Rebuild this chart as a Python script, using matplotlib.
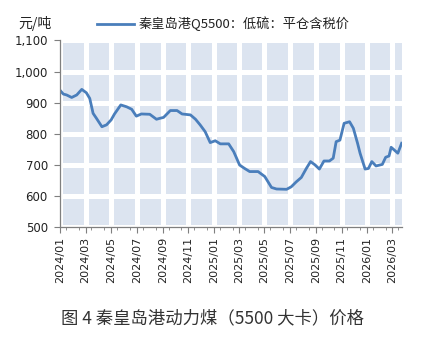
import numpy as np
import pandas as pd
import matplotlib
matplotlib.use('Agg')
import matplotlib.pyplot as plt
import matplotlib.dates as mdates

plt.rcParams['font.family'] = ['Noto Sans CJK SC', 'DejaVu Sans']

# weekly-ish readings of the price line
dates = ['2024-01-01', '2024-01-08', '2024-01-16', '2024-01-28', '2024-02-09', '2024-02-21',
         '2024-03-03', '2024-03-11', '2024-03-19', '2024-03-27', '2024-04-09', '2024-04-20',
         '2024-05-01', '2024-05-09', '2024-05-24', '2024-06-07', '2024-06-19', '2024-06-30',
         '2024-07-12', '2024-08-01', '2024-08-17', '2024-08-25', '2024-09-03', '2024-09-19',
         '2024-10-05', '2024-10-17', '2024-11-06', '2024-11-18', '2024-11-29', '2024-12-11',
         '2024-12-23', '2025-01-04', '2025-01-16', '2025-02-05', '2025-02-17', '2025-03-03',
         '2025-03-15', '2025-03-27', '2025-04-16', '2025-05-02', '2025-05-18', '2025-05-30',
         '2025-06-23', '2025-07-04', '2025-07-16', '2025-07-28', '2025-08-09', '2025-08-19',
         '2025-08-30', '2025-09-09', '2025-09-20', '2025-10-03', '2025-10-12', '2025-10-19',
         '2025-10-28', '2025-11-07', '2025-11-20', '2025-11-29', '2025-12-09', '2025-12-15',
         '2025-12-27', '2026-01-04', '2026-01-12', '2026-01-22', '2026-02-06', '2026-02-14',
         '2026-02-22', '2026-02-27', '2026-03-05', '2026-03-15', '2026-03-24']
prices = [939, 928, 925, 917, 925, 943, 932, 914, 866, 850, 823, 829,
          845, 864, 893, 887, 879, 857, 864, 863, 847, 850, 853, 875,
          875, 864, 861, 847, 829, 807, 772, 778, 768, 768, 743, 700,
          689, 679, 679, 663, 628, 623, 622, 630, 646, 660, 689, 711,
          700, 687, 713, 713, 722, 775, 780, 834, 839, 818, 770, 738,
          687, 689, 711, 697, 702, 725, 729, 757, 750, 738, 770]

legend_label = '秦皇岛港Q5500：低硫：平仓含税价'
caption = '图 4 秦皇岛港动力煤（5500 大卡）价格'

x = pd.to_datetime(dates)

fig = plt.figure(figsize=(4.25, 3.42), dpi=100)
ax = fig.add_axes([0.142, 0.3354, 0.803, 0.5462])
ax.set_facecolor('#dce4f0')

line, = ax.plot(x, prices, color='#4a7ebb', lw=2.0, solid_joinstyle='round')

ax.set_ylim(500, 1100)
ax.set_yticks(range(500, 1101, 100))
ax.yaxis.set_major_formatter(matplotlib.ticker.FuncFormatter(lambda v, p: f'{int(v):,}'))
ax.set_xlim(pd.Timestamp('2024-01-01'), x[-1])
ax.xaxis.set_major_locator(mdates.MonthLocator(bymonth=[1, 3, 5, 7, 9, 11]))
ax.xaxis.set_minor_locator(mdates.MonthLocator(bymonthday=15))
ax.xaxis.set_major_formatter(mdates.DateFormatter('%Y/%m'))
for lab in ax.get_xticklabels():
    lab.set_rotation(90)

ax.grid(True, which='major', color='white', lw=3.6)
ax.set_axisbelow(True)
for s in ['top', 'right']:
    ax.spines[s].set_visible(False)
for s in ['left', 'bottom']:
    ax.spines[s].set_color('#7f7f7f')
    ax.spines[s].set_linewidth(0.9)
ax.tick_params(axis='both', which='major', direction='out', length=4, color='#7f7f7f',
               labelcolor='#222222')
ax.tick_params(axis='y', labelsize=8.5, pad=5)
ax.tick_params(axis='x', labelsize=8, pad=3)
ax.tick_params(axis='x', which='minor', direction='out', length=2.5, color='#7f7f7f')
for lab in ax.get_xticklabels() + ax.get_yticklabels():
    lab.set_family('DejaVu Sans')

fig.text(0.042, 0.93, '元/吨', fontsize=10, color='#222222', va='center')
fig.legend([line], [legend_label], loc='center left', bbox_to_anchor=(0.215, 0.93),
           frameon=False, fontsize=9.5, handlelength=2.8, handletextpad=0.4,
           borderaxespad=0, labelcolor='#222222')

fig.text(0.5, 0.07, caption, fontsize=12.5, color='#333333', ha='center', va='center')

fig.savefig('out.png', dpi=100)
